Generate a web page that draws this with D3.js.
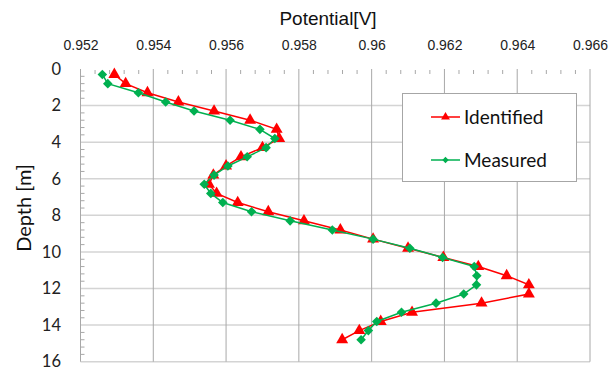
<!DOCTYPE html>
<html><head><meta charset="utf-8">
<script src="https://cdn.jsdelivr.net/npm/d3@7"></script>
<style>
html,body{margin:0;padding:0;background:#fff;}
svg{display:block;}
</style>
</head><body>
<svg id="chart" width="612" height="370"></svg>
<script>
const depths = [0.3,0.8,1.3,1.8,2.3,2.8,3.3,3.8,4.3,4.8,5.3,5.8,6.3,6.8,7.3,7.8,8.3,8.8,9.3,9.8,10.3,10.8,11.3,11.8,12.3,12.8,13.3,13.8,14.3,14.8];
const identified = [0.95293,0.95324,0.95384,0.95469,0.95567,0.95666,0.95739,0.95746,0.95700,0.95641,0.95600,0.95565,0.95553,0.95574,0.95632,0.95716,0.95814,0.95914,0.96004,0.96100,0.96197,0.96293,0.96371,0.96432,0.96432,0.96302,0.96111,0.96025,0.95966,0.95919];
const measured = [0.95260,0.95275,0.95359,0.95434,0.95512,0.95611,0.95693,0.95734,0.95710,0.95658,0.95605,0.95567,0.95540,0.95558,0.95591,0.95670,0.95776,0.95892,0.96004,0.96105,0.96195,0.96282,0.96289,0.96288,0.96253,0.96177,0.96082,0.96014,0.95991,0.95971];
const xTicks = [0.952,0.954,0.956,0.958,0.96,0.962,0.964,0.966];
const xTickLabels = ["0.952","0.954","0.956","0.958","0.96","0.962","0.964","0.966"];
const yTicks = [0,2,4,6,8,10,12,14,16];
const seriesNames = ["Identified","Measured"];

const svg = d3.select("#chart");
const x = d3.scaleLinear().domain([0.952,0.966]).range([80.5,590]);
const y = d3.scaleLinear().domain([0,16]).range([69,361.7]);

// gridlines
const g = svg.append("g");
g.selectAll("line.h").data(yTicks.filter(d=>d>0)).join("line")
  .attr("x1",x(0.952)).attr("x2",x(0.966))
  .attr("y1",d=>y(d)).attr("y2",d=>y(d))
  .attr("stroke","#d4d4d4").attr("stroke-width",1.5);
g.selectAll("line.v").data(xTicks).join("line")
  .attr("x1",d=>x(d)).attr("x2",d=>x(d))
  .attr("y1",y(0)).attr("y2",y(16))
  .attr("stroke","#a8a8a8").attr("stroke-width",1);

// minor ticks
const xMinor = d3.range(0,35).map(i=>0.952+i*0.0004).filter((d,i)=>i%5!==0);
g.selectAll("line.xm").data(xMinor).join("line")
  .attr("x1",d=>x(d)).attr("x2",d=>x(d)).attr("y1",y(0)+1).attr("y2",y(0)+5)
  .attr("stroke","#a8a8a8").attr("stroke-width",1);
const yMinor = d3.range(0,41).map(i=>i*0.4).filter((d,i)=>i%5!==0);
g.selectAll("line.ym").data(yMinor).join("line")
  .attr("x1",x(0.952)).attr("x2",x(0.952)+4).attr("y1",d=>y(d)).attr("y2",d=>y(d))
  .attr("stroke","#a8a8a8").attr("stroke-width",1);

// axes labels via d3 axes (styled)
const xAxis = d3.axisTop(x).tickValues(xTicks).tickFormat((d,i)=>xTickLabels[i]).tickSize(0).tickPadding(0);
const xa = svg.append("g").attr("transform","translate(0,50)").call(xAxis);
xa.select(".domain").remove();
xa.selectAll("text").attr("font-family","Liberation Sans, Arial, sans-serif").attr("font-size",14).attr("fill","#222").attr("dy",0);

const yAxis = d3.axisLeft(y).tickValues(yTicks).tickFormat(d3.format("d")).tickSize(0).tickPadding(0);
const ya = svg.append("g").attr("transform","translate(61,0)").call(yAxis);
ya.select(".domain").remove();
ya.selectAll("text").attr("font-family","Lato, Open Sans, sans-serif").attr("font-size",16.5).attr("fill","#222");

svg.append("text").attr("x",328).attr("y",25).attr("text-anchor","middle")
  .attr("font-family","Liberation Sans, Arial, sans-serif").attr("font-size",19).attr("fill","#111")
  .text("Potential[V]");
svg.append("text").attr("transform","translate(31,208) rotate(-90)").attr("text-anchor","middle")
  .attr("font-family","Lato, Open Sans, sans-serif").attr("font-size",20).attr("fill","#111")
  .text("Depth [m]");

const red = "#ff0000", green = "#00b050";
const line = d3.line().x(d=>x(d[0])).y(d=>y(d[1]));
const idData = identified.map((v,i)=>[v,depths[i]]);
const meData = measured.map((v,i)=>[v,depths[i]]);
const tri = d3.symbol().type(d3.symbolTriangle).size(62);
const dia = d3.symbol().type(d3.symbolSquare).size(46);

svg.append("path").datum(idData).attr("d",line).attr("fill","none").attr("stroke",red).attr("stroke-width",1.5);
svg.append("g").selectAll("path").data(idData).join("path")
  .attr("d",tri).attr("transform",d=>`translate(${x(d[0])},${y(d[1])})`).attr("fill",red);
svg.append("path").datum(meData).attr("d",line).attr("fill","none").attr("stroke",green).attr("stroke-width",1.5);
svg.append("g").selectAll("path").data(meData).join("path")
  .attr("d",dia).attr("transform",d=>`translate(${x(d[0])},${y(d[1])}) rotate(45)`).attr("fill",green);

// legend
const lg = svg.append("g");
lg.append("rect").attr("x",402.5).attr("y",93.5).attr("width",174).attr("height",88)
  .attr("fill","#fff").attr("stroke","#a6a6a6").attr("stroke-width",1);
const items = [{n:seriesNames[0],c:red,s:d3.symbol().type(d3.symbolTriangle).size(34),r:0,yy:117},
               {n:seriesNames[1],c:green,s:d3.symbol().type(d3.symbolSquare).size(20),r:45,yy:160}];
items.forEach(it=>{
  lg.append("line").attr("x1",431).attr("x2",460).attr("y1",it.yy).attr("y2",it.yy).attr("stroke",it.c).attr("stroke-width",1.5);
  lg.append("path").attr("d",it.s).attr("transform",`translate(445.5,${it.yy}) rotate(${it.r})`).attr("fill",it.c);
  lg.append("text").attr("x",464).attr("y",it.yy+7).attr("font-family","Lato, Open Sans, sans-serif")
    .attr("font-size",19).attr("fill","#111").text(it.n);
});
</script>
</body></html>
